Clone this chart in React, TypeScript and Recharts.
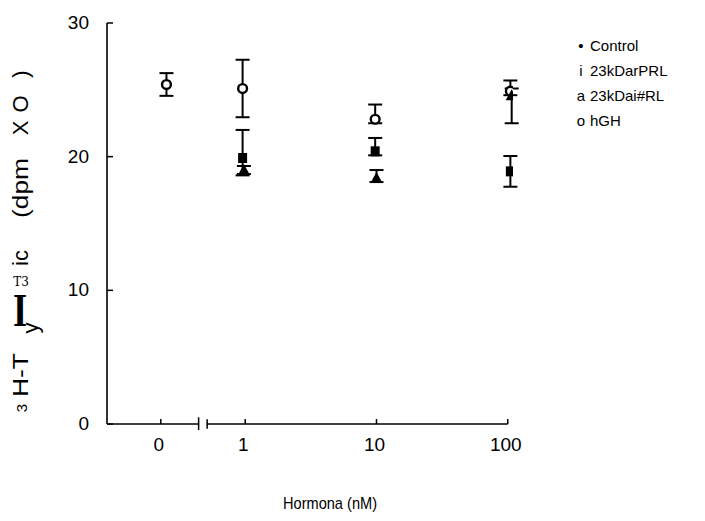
import React from 'react';
import { ScatterChart, Scatter, XAxis, YAxis, ErrorBar, ReferenceLine } from 'recharts';

// ---- data ----
const doseTickLabels = ['0', '1', '10', '100'];
const doseTickPos = [-0.643, 0, 1, 2]; // log10 positions (0 placed left of axis break)
const yTicks = [0, 10, 20, 30];

const controlX = [-0.6];
const controlY = [25.4];
const controlErr = [[0.85, 0.85]];

const prlX = [-0.02, 0.99, 2.02];
const prlY = [19.9, 20.4, 18.9];
const prlErr = [[1.3, 2.1], [0.3, 1.0], [1.15, 1.15]];

const rlX = [-0.01, 1.0, 2.03];
const rlY = [19.0, 18.4, 24.6];
const rlErr = [[0.3, 0.3], [0.3, 0.6], [2.1, 0.5]];

const hghX = [-0.02, 0.99, 2.02];
const hghY = [25.1, 22.8, 24.9];
const hghErr = [[2.15, 2.15], [0.3, 1.1], [0.3, 0.8]];

const legendSymbols = ['•', 'i', 'a', 'o'];
const legendLabels = ['Control', '23kDarPRL', '23kDai#RL', 'hGH'];

const xDomain = [-1.053, 2.04];
const axisEnd = 2.0;
const breakAt = [-0.355, -0.29];

const build = (xs: number[], ys: number[], es: number[][]) =>
  xs.map((x, i) => ({ x, y: ys[i], err: es[i] }));

const controlData = build(controlX, controlY, controlErr);
const prlData = build(prlX, prlY, prlErr);
const rlData = build(rlX, rlY, rlErr);
const hghData = build(hghX, hghY, hghErr);

const FONT = "'Liberation Sans', Arial, sans-serif";
const W = 705;
const H = 521;
const M = { top: 23, right: 192, bottom: 57, left: 57 };
const PLOT_BOTTOM = H - M.bottom - 40;

const CircleShape = (p: any) => (
  <circle cx={p.cx} cy={p.cy} r={4.4} fill="#fff" stroke="#000" strokeWidth={2.4} />
);
const SquareShape = (p: any) => (
  <rect x={p.cx - 4.5} y={p.cy - 5} width={9} height={10} fill="#000" />
);
const TriangleShape = (p: any) => (
  <polygon
    points={`${p.cx},${p.cy - 6} ${p.cx - 6},${p.cy + 5} ${p.cx + 6},${p.cy + 5}`}
    fill="#000"
  />
);

const XTick = (props: any) => {
  const { x, payload } = props;
  const idx = doseTickPos.indexOf(payload.value);
  return (
    <g>
      <line x1={x} x2={x} y1={PLOT_BOTTOM} y2={PLOT_BOTTOM - 5} stroke="#000" strokeWidth={1.5} />
      <text x={x - 2} y={PLOT_BOTTOM + 27} textAnchor="middle" fontFamily={FONT} fontSize={19} fill="#000">
        {doseTickLabels[idx]}
      </text>
    </g>
  );
};

const YTick = (props: any) => {
  const { x, y, payload } = props;
  return (
    <g>
      <line x1={x} x2={x + 6} y1={y} y2={y} stroke="#000" strokeWidth={1.5} />
      <text x={x - 18} y={y + 6} textAnchor="end" fontFamily={FONT} fontSize={19} fill="#000">
        {payload.value}
      </text>
    </g>
  );
};

const rot = (cx: number, cy: number) => `rotate(-90 ${cx} ${cy})`;

const Overlay = () => (
  <svg
    width={W}
    height={H}
    style={{ position: 'absolute', left: 0, top: 0, pointerEvents: 'none' }}
  >
    {/* y axis title (scanned / OCR pieces) */}
    <g fontFamily={FONT} fontSize={22} fill="#000">
      <text x={20} y={74} transform={rot(20, 74)} textAnchor="middle" dominantBaseline="central">)</text>
      <text x={20} y={104} transform={rot(20, 104)} textAnchor="middle" dominantBaseline="central">O</text>
      <text x={20} y={128} transform={rot(20, 128)} textAnchor="middle" dominantBaseline="central">X</text>
      <text x={20} y={188} transform={rot(20, 188)} textAnchor="middle" dominantBaseline="central" textLength={60} lengthAdjust="spacingAndGlyphs">(dpm</text>
      <text x={20} y={258} transform={rot(20, 258)} textAnchor="middle" dominantBaseline="central">ic</text>
      <text x={30} y={328} transform={rot(30, 328)} textAnchor="middle" dominantBaseline="central">y</text>
      <text x={20} y={375} transform={rot(20, 375)} textAnchor="middle" dominantBaseline="central" textLength={44} lengthAdjust="spacingAndGlyphs">H-T</text>
      <text x={21} y={408} transform={rot(21, 408)} textAnchor="middle" dominantBaseline="central" fontSize={15}>3</text>
    </g>
    <text x={21} y={286} textAnchor="middle" fontFamily="'DejaVu Serif', 'Liberation Serif', serif" fontSize={12} fill="#000">T3</text>
    <text
      x={0}
      y={0}
      transform="translate(20 326) scale(1.1 1.4)"
      textAnchor="middle"
      fontFamily="'Liberation Serif', serif"
      fontWeight="bold"
      fontSize={33}
      fill="#000"
    >
      I
    </text>

    {/* legend */}
    <g fontFamily={FONT} fontSize={15} fill="#000">
      {legendLabels.map((lab, i) => (
        <g key={lab}>
          <text x={581} y={45 + i * 25} textAnchor="middle" dominantBaseline="central">
            {legendSymbols[i]}
          </text>
          <text x={590} y={45 + i * 25} dominantBaseline="central">
            {lab}
          </text>
        </g>
      ))}
    </g>

    {/* x axis title */}
    <text
      x={330}
      y={509}
      textAnchor="middle"
      fontFamily={FONT}
      fontSize={17}
      fill="#000"
      textLength={94}
      lengthAdjust="spacingAndGlyphs"
    >
      Hormona (nM)
    </text>
  </svg>
);

export default function App() {
  return (
    <div style={{ position: 'absolute', left: 0, top: 0, width: W, height: H, background: '#fff' }}>
      <ScatterChart width={W} height={H} margin={M}>
        <XAxis
          type="number"
          dataKey="x"
          domain={xDomain}
          ticks={doseTickPos}
          allowDataOverflow
          axisLine={false}
          tickLine={false}
          tickSize={0}
          tickMargin={0}
          height={40}
          tick={<XTick />}
          interval={0}
        />
        <YAxis
          type="number"
          dataKey="y"
          domain={[0, 30]}
          ticks={yTicks}
          allowDataOverflow
          axisLine={{ stroke: '#000', strokeWidth: 1.6 }}
          tickLine={false}
          tickSize={0}
          tickMargin={0}
          width={50}
          tick={<YTick />}
          interval={0}
        />
        <ReferenceLine
          segment={[{ x: xDomain[0], y: 0 }, { x: breakAt[0], y: 0 }]}
          stroke="#000"
          strokeWidth={1.6}
          ifOverflow="visible"
        />
        <ReferenceLine
          segment={[{ x: breakAt[1], y: 0 }, { x: axisEnd, y: 0 }]}
          stroke="#000"
          strokeWidth={1.6}
          ifOverflow="visible"
        />
        <ReferenceLine
          segment={[{ x: breakAt[0], y: -0.45 }, { x: breakAt[0], y: 0.5 }]}
          stroke="#000"
          strokeWidth={1.5}
          ifOverflow="visible"
        />
        <ReferenceLine
          segment={[{ x: breakAt[1], y: -0.35 }, { x: breakAt[1], y: 0.35 }]}
          stroke="#000"
          strokeWidth={1.5}
          ifOverflow="visible"
        />
        <Scatter data={hghData} shape={CircleShape} isAnimationActive={false}>
          <ErrorBar dataKey="err" direction="y" width={7} stroke="#000" strokeWidth={2} />
        </Scatter>
        <Scatter data={controlData} shape={CircleShape} isAnimationActive={false}>
          <ErrorBar dataKey="err" direction="y" width={7} stroke="#000" strokeWidth={2} />
        </Scatter>
        <Scatter data={prlData} shape={SquareShape} isAnimationActive={false}>
          <ErrorBar dataKey="err" direction="y" width={7} stroke="#000" strokeWidth={2} />
        </Scatter>
        <Scatter data={rlData} shape={TriangleShape} isAnimationActive={false}>
          <ErrorBar dataKey="err" direction="y" width={7} stroke="#000" strokeWidth={2} />
        </Scatter>
      </ScatterChart>
      <Overlay />
    </div>
  );
}
